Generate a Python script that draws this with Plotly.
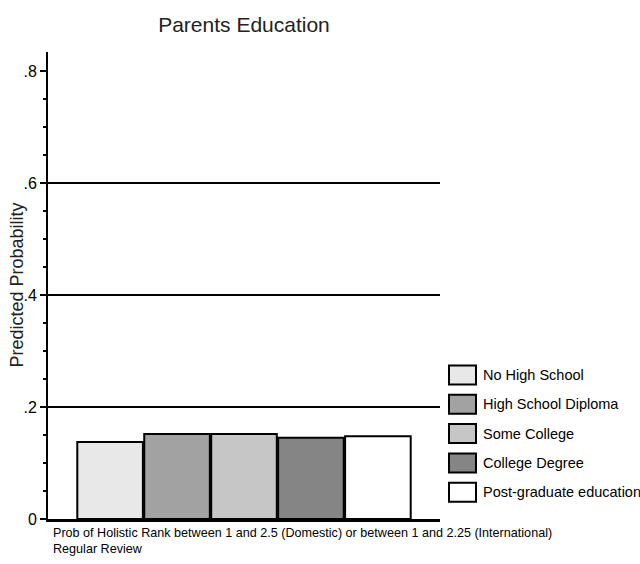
import plotly.graph_objects as go

# Predicted probabilities by parents' education level
categories = ["No High School", "High School Diploma", "Some College",
              "College Degree", "Post-graduate education"]
values = [0.1375, 0.152, 0.152, 0.145, 0.148]
colors = ["#e8e8e8", "#a2a2a2", "#c6c6c6", "#858585", "#ffffff"]
group_label = ("Prob of Holistic Rank between 1 and 2.5 (Domestic) or between 1 and 2.25 "
               "(International)<br>Regular Review")
tick_vals = [0, 0.2, 0.4, 0.6, 0.8]
tick_text = ["0", ".2", ".4", ".6", ".8"]
grid_vals = [0.2, 0.4, 0.6]

SANS = "Liberation Sans, Arial, sans-serif"

W, H = 640, 564
ML, MR, MT, MB = 48, 200, 52, 45
plot_w = W - ML - MR
plot_h = H - MT - MB

fig = go.Figure()
for name, val, col in zip(categories, values, colors):
    fig.add_trace(go.Bar(
        x=["grp"], y=[val], name=name,
        marker=dict(color=col, line=dict(color="black", width=2)),
        showlegend=False,
    ))

shapes = []
for g in grid_vals:
    shapes.append(dict(type="line", xref="x domain", yref="y", x0=0, x1=1, y0=g, y1=g,
                       line=dict(color="black", width=2), layer="below"))

annotations = [
    dict(text=group_label, xref="paper", yref="paper", x=0, y=0,
         xanchor="left", yanchor="top", xshift=3, yshift=-5, align="left",
         showarrow=False, font=dict(family=SANS, size=12.6, color="black")),
    # vertical axis title
    dict(text="Predicted Probability", xref="paper", yref="paper", x=0, y=0.5,
         xanchor="center", yanchor="middle", xshift=-32, textangle=-90,
         showarrow=False, font=dict(family=SANS, size=18, color="#222222")),
]

# Legend drawn as boxed swatches with labels to the right of the plot
sw_x0 = (449 - ML) / plot_w
sw_x1 = (476 - ML) / plot_w
txt_x = (481 - ML) / plot_w
first_c = 375
step = 29.3
half = 9.5
for i, (name, col) in enumerate(zip(categories, colors)):
    cy = first_c + i * step
    yc = (H - MB - cy) / plot_h
    shapes.append(dict(type="rect", xref="paper", yref="paper",
                       x0=sw_x0, x1=sw_x1, y0=yc - half / plot_h, y1=yc + half / plot_h,
                       fillcolor=col, line=dict(color="black", width=2)))
    annotations.append(dict(text=name, xref="paper", yref="paper", x=txt_x, y=yc,
                            xanchor="left", yanchor="middle", showarrow=False,
                            font=dict(family=SANS, size=14.5, color="black")))

fig.update_layout(
    width=W, height=H,
    margin=dict(l=ML, r=MR, t=MT, b=MB, pad=0, autoexpand=False),
    paper_bgcolor="white", plot_bgcolor="white",
    barmode="group", bargap=0.146, bargroupgap=0.02,
    title=dict(text="Parents Education", x=0.5, xref="paper", xanchor="center",
               y=1 - 25 / H, yref="container", yanchor="middle",
               font=dict(family=SANS, size=21, color="#222222")),
    xaxis=dict(range=[-0.5, 0.5], showticklabels=False, ticks="", showgrid=False,
               showline=True, linecolor="black", linewidth=2.5, zeroline=False,
               automargin=False),
    yaxis=dict(range=[0, 0.834], tickvals=tick_vals, ticktext=tick_text,
               ticks="outside", ticklen=6, tickwidth=2, tickcolor="black",
               minor=dict(dtick=0.05, ticks="outside", ticklen=3, tickwidth=1.5,
                          tickcolor="black", showgrid=False),
               showgrid=False, zeroline=False, showline=True, linecolor="black",
               linewidth=2, automargin=False,
               tickfont=dict(family=SANS, size=16, color="black")),
    shapes=shapes, annotations=annotations,
)

fig.write_html("out.html")
